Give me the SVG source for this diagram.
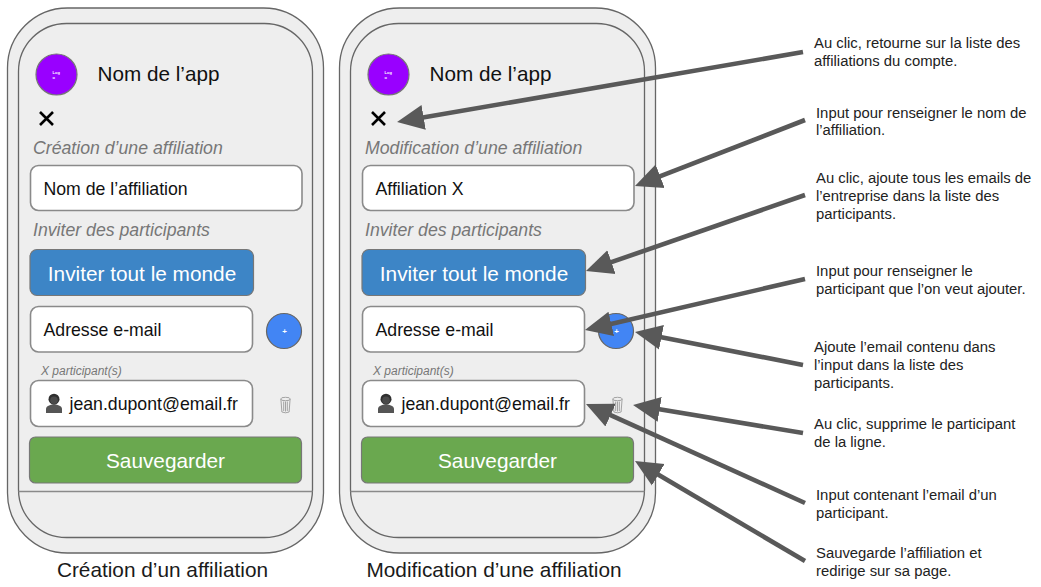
<svg xmlns="http://www.w3.org/2000/svg" xmlns:xlink="http://www.w3.org/1999/xlink" width="1041" height="587" viewBox="0 0 1041 587">
<style>
text{font-family:"Liberation Sans",Arial,sans-serif}
.shell{fill:#eeeeee;stroke:#666;stroke-width:1.3}
.field{fill:#fff;stroke:#8a8a8a;stroke-width:1.6}
.t20{font-size:20.7px;fill:#111}
.t17{font-size:17.7px;fill:#111}
.sec{font-size:17.7px;font-style:italic;fill:#777}
.small{font-size:12px;font-style:italic;fill:#777}
.btn{font-size:20.8px;fill:#fff;text-anchor:middle}
.cap{font-size:20.8px;fill:#1a1a1a;text-anchor:middle}
.note{font-size:14.85px;fill:#222}
.conn{fill:none;stroke:#595959;stroke-width:4.6;marker-end:url(#head)}
</style>
<defs>
<marker id="head" markerUnits="userSpaceOnUse" markerWidth="30" markerHeight="28" refX="17" refY="14" orient="auto">
<path d="M0 1.500L27 14L0 26.500Z" fill="#595959"/>
</marker>
<g id="person">
<path d="M-8 9.500V5.500C-8 2.500 -4 1 0 1S8 2.500 8 5.500V9.500Z" fill="#555"/>
<circle cx="0" cy="-4.300" r="5.500" fill="#2f2f2f"/>
<circle cx="0" cy="-3.200" r="3.800" fill="#4a4a4a"/>
</g>
<g id="trash" fill="none" stroke="#a3a3a3" stroke-width="1">
<ellipse cx="0" cy="-6" rx="4.800" ry="1.700"/>
<path d="M-4.600 -6L-3.600 7Q0 8.600 3.600 7L4.600 -6M-1.800 -3.500V6M0 -3.500V6.500M1.800 -3.500V6"/>
</g>
<g id="phone-body">
<rect class="shell" x="7.500" y="8" width="316" height="545" rx="60"/>
<rect class="shell" x="18.500" y="23.500" width="294" height="514" rx="48"/>
<line x1="18.500" y1="491.500" x2="312.500" y2="491.500" stroke="#8a8a8a" stroke-width="1.600"/>
<circle cx="56.500" cy="74.500" r="20.500" fill="#9900ff" stroke="#777" stroke-width="1.200"/>
<text x="52.500" y="73.500" font-size="4" font-weight="bold" fill="#fff">Log</text>
<text x="52.500" y="78.500" font-size="4" font-weight="bold" fill="#fff">o</text>
<text class="t20" x="97.500" y="81">Nom de l’app</text>
<path d="M40 112L53 125M53 112L40 125" stroke="#000" stroke-width="2.600" fill="none"/>
<rect x="30" y="249.500" width="223.500" height="46" rx="7" fill="#3d85c6" stroke="#777" stroke-width="1.200"/>
<text class="btn" x="142" y="281">Inviter tout le monde</text>
<rect class="field" x="30.500" y="165.500" width="271.500" height="45" rx="8"/>
<rect class="field" x="30.500" y="306.500" width="222" height="45.500" rx="8"/>
<text class="t17" x="43.500" y="335.500">Adresse e-mail</text>
<circle cx="284" cy="331" r="17.500" fill="#4285f4" stroke="#666" stroke-width="1.200"/>
<text x="284.500" y="334" font-size="8" font-weight="bold" fill="#fff" text-anchor="middle">+</text>
<text class="small" x="41" y="374.500">X participant(s)</text>
<rect class="field" x="30.500" y="380.500" width="222" height="46" rx="8"/>
<use xlink:href="#person" href="#person" x="54" y="403.500"/>
<text class="t17" x="69.500" y="409.500">jean.dupont@email.fr</text>
<use xlink:href="#trash" href="#trash" x="285.500" y="405"/>
<rect x="29.500" y="437" width="272" height="46" rx="6" fill="#6aa84f" stroke="#777" stroke-width="1.200"/>
<text class="btn" x="165.500" y="467.500">Sauvegarder</text>
</g>
</defs>

<g id="phone-creation">
<use xlink:href="#phone-body" href="#phone-body"/>
<text class="sec" x="33" y="154">Création d’une affiliation</text>
<text class="t17" x="43.500" y="194.500">Nom de l’affiliation</text>
<text class="sec" x="33" y="236">Inviter des participants</text>
<text class="cap" x="162.500" y="576.500">Création d’un affiliation</text>
</g>

<g id="phone-modification">
<use xlink:href="#phone-body" href="#phone-body" x="332"/>
<text class="sec" x="365" y="154">Modification d’une affiliation</text>
<text class="t17" x="375.500" y="194.500">Affiliation X</text>
<text class="sec" x="365" y="236">Inviter des participants</text>
<text class="cap" x="494" y="576.500">Modification d’une affiliation</text>
</g>

<g id="connectors">
<line class="conn" x1="803" y1="52" x2="406.900" y2="120.300"/>
<line class="conn" x1="805" y1="120" x2="644.300" y2="182.400"/>
<line class="conn" x1="805" y1="195" x2="595.400" y2="267.700"/>
<line class="conn" x1="805" y1="279" x2="594.700" y2="327.700"/>
<line class="conn" x1="803" y1="365" x2="644.800" y2="333.900"/>
<line class="conn" x1="803" y1="433" x2="642.900" y2="406.600"/>
<line class="conn" x1="805" y1="503" x2="595.100" y2="408.100"/>
<line class="conn" x1="805" y1="561" x2="643.600" y2="466.100"/>
</g>

<g id="note-1"><text class="note" x="814" y="48">Au clic, retourne sur la liste des</text><text class="note" x="814" y="66">affiliations du compte.</text></g>
<g id="note-2"><text class="note" x="816" y="118">Input pour renseigner le nom de</text><text class="note" x="816" y="135">l’affiliation.</text></g>
<g id="note-3"><text class="note" x="816" y="183">Au clic, ajoute tous les emails de</text><text class="note" x="816" y="201">l’entreprise dans la liste des</text><text class="note" x="816" y="219">participants.</text></g>
<g id="note-4"><text class="note" x="816" y="276">Input pour renseigner le</text><text class="note" x="816" y="294">participant que l’on veut ajouter.</text></g>
<g id="note-5"><text class="note" x="814" y="352">Ajoute l’email contenu dans</text><text class="note" x="814" y="370">l’input dans la liste des</text><text class="note" x="814" y="388">participants.</text></g>
<g id="note-6"><text class="note" x="814" y="429">Au clic, supprime le participant</text><text class="note" x="814" y="447">de la ligne.</text></g>
<g id="note-7"><text class="note" x="816" y="500">Input contenant l’email d’un</text><text class="note" x="816" y="518">participant.</text></g>
<g id="note-8"><text class="note" x="816" y="558">Sauvegarde l’affiliation et</text><text class="note" x="816" y="576">redirige sur sa page.</text></g>
</svg>
